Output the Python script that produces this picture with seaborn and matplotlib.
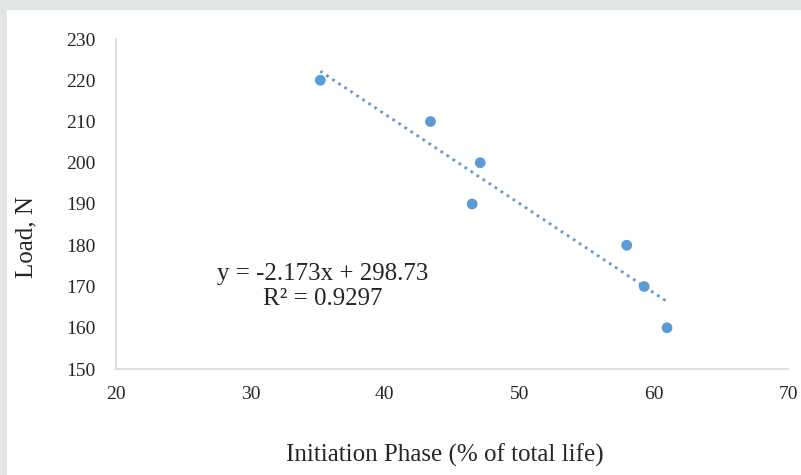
import matplotlib
matplotlib.use("Agg")
import matplotlib.pyplot as plt
import seaborn as sns
import pandas as pd
from matplotlib.patches import Rectangle

# Data
initiation_phase = [35.2, 43.4, 47.1, 46.5, 58.0, 59.3, 61.0]
load = [220, 210, 200, 190, 180, 170, 160]
x_ticks = [20, 30, 40, 50, 60, 70]
y_ticks = [150, 160, 170, 180, 190, 200, 210, 220, 230]

df = pd.DataFrame({'phase': initiation_phase, 'load': load})

sns.set_style("white")
plt.rcParams['font.family'] = ['Liberation Serif', 'DejaVu Serif']

point_color = '#5b9bd5'
spine_color = '#d9d9d9'
text_color = '#262626'

fig = plt.figure(figsize=(8.01, 4.75), dpi=100)
fig.patch.set_facecolor('#e1e5e6')
# white card inside the gray page
fig.patches.append(Rectangle((7 / 801, 0), 1, 1 - 10 / 475, transform=fig.transFigure,
                             facecolor='white', edgecolor='none', zorder=-1))

ax = fig.add_axes([116 / 801, 1 - 369 / 475, (788 - 116) / 801, (369 - 39) / 475])
ax.set_facecolor('white')

# linear trendline (dotted) fitted by seaborn over the data range
sns.regplot(data=df, x='phase', y='load', ax=ax, scatter=False, ci=None, truncate=True,
            line_kws={'color': point_color, 'linestyle': (0, (1, 1.6)), 'linewidth': 2})
sns.scatterplot(data=df, x='phase', y='load', ax=ax, color=point_color, s=60,
                edgecolor='none', zorder=3)

ax.set_xlim(20, 70)
ax.set_ylim(150, 230)
ax.set_xticks(x_ticks)
ax.set_yticks(y_ticks)
ax.tick_params(axis='y', length=0, labelsize=14, colors=text_color, pad=15)
ax.tick_params(axis='x', length=0, labelsize=14, colors=text_color, pad=12)

for side in ['top', 'right']:
    ax.spines[side].set_visible(False)
for side in ['left', 'bottom']:
    ax.spines[side].set_color(spine_color)
    ax.spines[side].set_linewidth(1.2)

ax.set_xlabel('Initiation Phase (% of total life)', fontsize=18, color=text_color)
ax.set_ylabel('Load, N', fontsize=18, color=text_color)
ax.xaxis.set_label_coords(0.49, -0.227)
ax.yaxis.set_label_coords(-0.1176, 0.40)

ax.text(0.308, 0.25, 'y = -2.173x + 298.73\nR² = 0.9297', transform=ax.transAxes,
        ha='center', va='center', fontsize=18, color=text_color, linespacing=1.2)

plt.savefig('out.png', dpi=100, facecolor=fig.get_facecolor())
